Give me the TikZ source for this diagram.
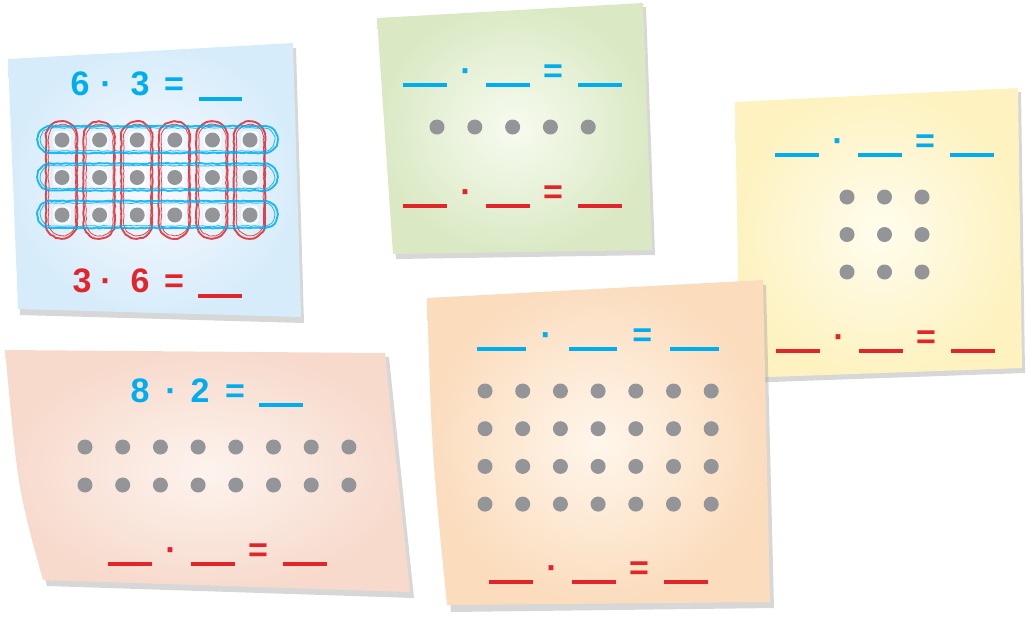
\documentclass[tikz,border=0pt]{standalone}
\usepackage{fontspec}
\setmainfont{Liberation Sans}
\usetikzlibrary{decorations.pathmorphing}

\definecolor{eqblue}{HTML}{00AEEF}
\definecolor{eqred}{HTML}{E0262B}
\definecolor{dotgray}{HTML}{939598}

\tikzset{
	shadowpaper/.style={fill=black!35, opacity=0.45},
	dot/.style={circle, fill=dotgray, minimum size=15pt, inner sep=0pt},
	sym/.style={anchor=base, inner sep=0pt, font=\fontsize{34}{38}\selectfont\bfseries},
	blank/.style={anchor=west, minimum height=3.2pt, inner sep=0pt},
	scribble/.style={line width=1.9pt, opacity=0.85, line join=round, decorate,
		decoration={random steps, segment length=3pt, amplitude=0.5pt}},
}

% one row of blanks:  name, x0, y, length, colour
\newcommand{\blankrow}[5]{%
	\node[blank, fill=#5, minimum width=#4] (#1a) at (#2,#3) {};
	\node[sym, text=#5] (#1dot) at ({#2+1.43*#4},{#3-3}) {·};
	\node[blank, fill=#5, minimum width=#4] (#1b) at ({#2+1.89*#4},#3) {};
	\node[sym, text=#5] (#1eq) at ({#2+3.41*#4},{#3-3}) {=};
	\node[blank, fill=#5, minimum width=#4] (#1c) at ({#2+3.98*#4},#3) {};
}

\begin{document}
\begin{tikzpicture}[x=1pt, y=-1pt]
	\useasboundingbox (0,0) rectangle (1027,622);

	% blue note
	\fill[shadowpaper] (10,63) -- (296,48) -- (304,323) -- (20,315) -- cycle;
	\shade[inner color=blue!2, outer color={rgb,255:red,214;green,236;blue,250}] (8,59) -- (293,43) -- (301,317) -- (18,309) -- cycle;
	\foreach \i in {0,...,5} {
		\draw[scribble, eqred] ({46+37.6*\i},137) arc[start angle=180, end angle=360, radius=15.5]
			-- ({77+37.6*\i},223) arc[start angle=0, end angle=180, radius=15.5] -- cycle;
		\draw[scribble, eqred, line width=0.8pt] ({48.5+37.6*\i},138) arc[start angle=180, end angle=360, radius=13.5]
			-- ({75.5+37.6*\i},222) arc[start angle=0, end angle=180, radius=13.5] -- cycle;
	}
	\foreach \j in {0,1,2} {
		\draw[scribble, eqblue] (51,{126+37.5*\j}) -- (264,{126+37.5*\j}) arc[start angle=-90, end angle=90, radius=13.5]
			-- (51,{153+37.5*\j}) arc[start angle=90, end angle=270, radius=13.5] -- cycle;
		\draw[scribble, eqblue, line width=0.8pt] (52,{128+37.5*\j}) -- (263,{128+37.5*\j}) arc[start angle=-90, end angle=90, radius=11.5]
			-- (52,{151+37.5*\j}) arc[start angle=90, end angle=270, radius=11.5] -- cycle;
	}
	\foreach \i in {0,...,5}
		\foreach \j in {0,1,2} {
			\fill[white, opacity=0.7, rounded corners=4pt] ({53+37.6*\i},{131+37.5*\j}) rectangle ({71+37.6*\i},{149+37.5*\j});
			\node[dot] (b\i\j) at ({62+37.6*\i},{140+37.5*\j}) {};
		}
	\node[sym, text=eqblue] (bsix) at (80,95) {6};
	\node[sym, text=eqblue] (bdot) at (106,95) {·};
	\node[sym, text=eqblue] (bthree) at (140,95) {3};
	\node[sym, text=eqblue] (beq) at (174,95) {=};
	\node[blank, fill=eqblue, minimum width=43] (bblank) at (199,99) {};
	\node[sym, text=eqred] (rthree) at (82,292) {3};
	\node[sym, text=eqred] (rdot) at (106,292) {·};
	\node[sym, text=eqred] (rsix) at (140,292) {6};
	\node[sym, text=eqred] (req) at (174,292) {=};
	\node[blank, fill=eqred, minimum width=44] (rblank) at (198,296) {};

	% green note
	\fill[shadowpaper] (380,22) -- (646,7) -- (655,255) -- (396,259) -- cycle;
	\shade[inner color={rgb,255:red,247;green,251;blue,240}, outer color={rgb,255:red,218;green,233;blue,196}] (377,18) -- (643,3) -- (652,250) -- (393,254) -- cycle;
	\blankrow{gb}{403}{85}{44}{eqblue}
	\foreach \i in {0,...,4}
		\node[dot] (g\i) at ({437+37.8*\i},127) {};
	\blankrow{gr}{403}{206}{44}{eqred}

	% yellow note
	\fill[shadowpaper] (738,106) -- (1021,92) -- (1025,373) -- (743,383) -- cycle;
	\shade[inner color={rgb,255:red,255;green,253;blue,238}, outer color={rgb,255:red,253;green,242;blue,192}] (735,102) -- (1018,88) -- (1022,368) -- (740,378) -- cycle;
	\blankrow{yb}{775}{155}{44}{eqblue}
	\foreach \i in {0,1,2}
		\foreach \j in {0,1,2}
			\node[dot] (y\i\j) at ({847+37.5*\i},{197+37.5*\j}) {};
	\blankrow{yr}{776}{351}{44}{eqred}

	% pink note
	\fill[shadowpaper] (8,354) -- (389,357) -- (414,598) -- (47,586) .. controls (25,500) .. cycle;
	\shade[inner color={rgb,255:red,253;green,243;blue,238}, outer color={rgb,255:red,247;green,218;blue,204}] (5,350) -- (385,353) -- (410,592) -- (43,580) .. controls (18,490) .. cycle;
	\node[sym, text=eqblue] (peight) at (140,402) {8};
	\node[sym, text=eqblue] (pdot) at (171,402) {·};
	\node[sym, text=eqblue] (ptwo) at (200,402) {2};
	\node[sym, text=eqblue] (peq) at (235,402) {=};
	\node[blank, fill=eqblue, minimum width=44] (pblank) at (259,405) {};
	\foreach \i in {0,...,7}
		\foreach \j in {0,1}
			\node[dot] (p\i\j) at ({85+37.7*\i},{447+38*\j}) {};
	\blankrow{pr}{108}{564}{44}{eqred}

	% orange note
	\fill[shadowpaper] (430,303) -- (766,285) -- (774,608) -- (451,612) .. controls (436,460) .. cycle;
	\shade[inner color={rgb,255:red,255;green,246;blue,235}, outer color={rgb,255:red,251;green,220;blue,189}] (427,298) -- (763,280) -- (770,602) -- (447,605) .. controls (432,455) .. cycle;
	\blankrow{ob}{477}{349}{48.5}{eqblue}
	\foreach \i in {0,...,6}
		\foreach \j in {0,...,3}
			\node[dot] (o\i\j) at ({485+37.7*\i},{391+37.7*\j}) {};
	\blankrow{or}{489}{582}{44}{eqred}
\end{tikzpicture}
\end{document}
